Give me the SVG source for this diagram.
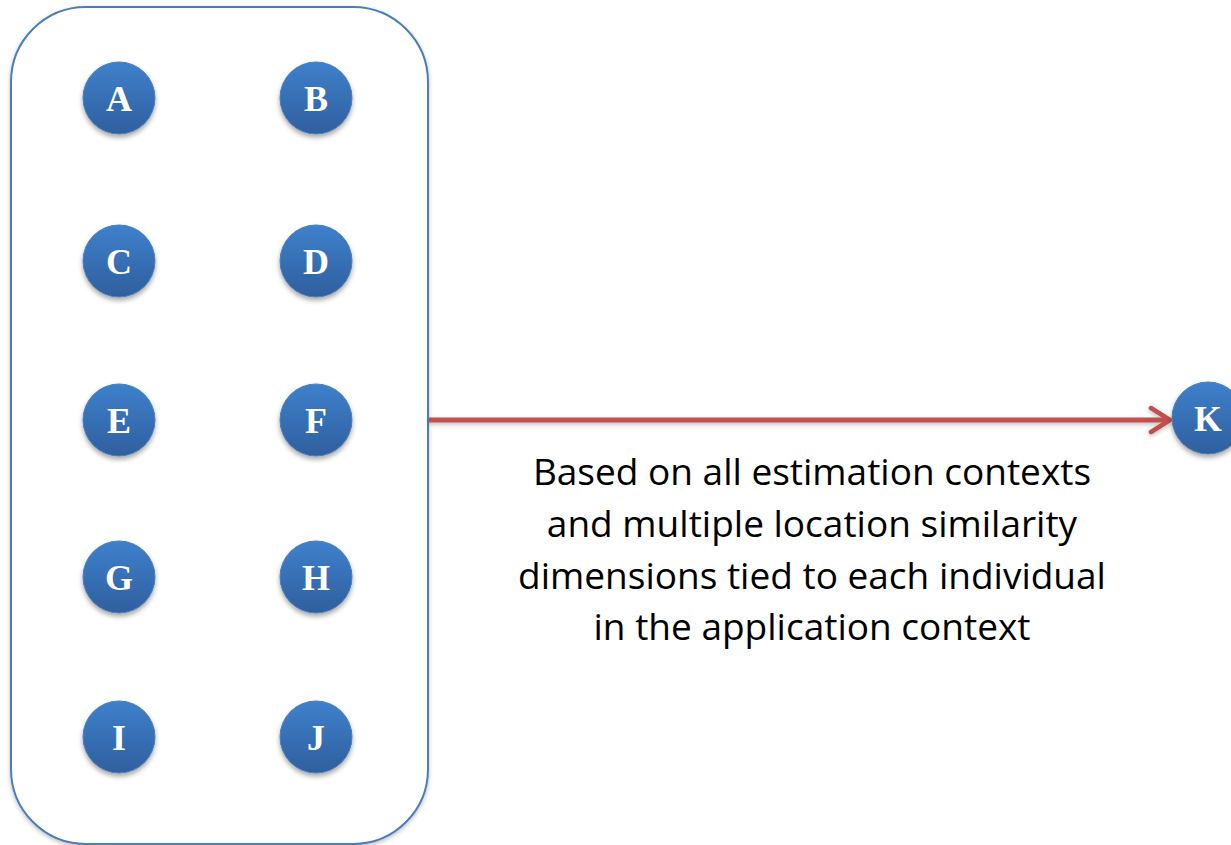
<svg xmlns="http://www.w3.org/2000/svg" width="1231" height="845" viewBox="0 0 1231 845">
<defs>
<linearGradient id="g" x1="0" y1="0" x2="0" y2="1">
<stop offset="0" stop-color="#3E80CC"/>
<stop offset="1" stop-color="#2F5F9E"/>
</linearGradient>
<filter id="sh" x="-30%" y="-30%" width="160%" height="170%">
<feDropShadow dx="0" dy="3" stdDeviation="2.5" flood-color="#000" flood-opacity="0.35"/>
</filter>
<filter id="sh2" x="-5%" y="-5%" width="110%" height="110%">
<feDropShadow dx="0" dy="2" stdDeviation="2" flood-color="#000" flood-opacity="0.25"/>
</filter>
<filter id="sh3" filterUnits="userSpaceOnUse" x="420" y="395" width="780" height="50">
<feDropShadow dx="0" dy="2" stdDeviation="2" flood-color="#000" flood-opacity="0.25"/>
</filter>
<marker id="arr" markerWidth="28" markerHeight="30" refX="22" refY="15" orient="auto" markerUnits="userSpaceOnUse" viewBox="0 0 28 30">
<path d="M3,3 L22,15 L3,27" fill="none" stroke="#C0504D" stroke-width="4.5" stroke-linecap="round" stroke-linejoin="round"/>
</marker>
</defs>
<style>
.n circle{fill:url(#g);stroke:#4A7EBB;stroke-width:1;filter:url(#sh)}
.n text{font-family:"Liberation Serif",serif;font-weight:bold;font-size:36px;fill:#fff;text-anchor:middle}
.lbl{font-family:"Open Sans","Liberation Sans",sans-serif;font-size:37px;fill:#000;text-anchor:middle}
</style>
<rect id="container" x="11" y="7" width="417" height="837" rx="75" ry="75" fill="#fff" stroke="#4A7EBB" stroke-width="2" filter="url(#sh2)"/>
<g id="connectors">
<line x1="429" y1="420" x2="1170" y2="420" stroke="#C0504D" stroke-width="5" marker-end="url(#arr)" filter="url(#sh3)"/>
</g>
<g id="A" class="n"><circle cx="119" cy="98" r="36"/><text x="119" y="111">A</text></g>
<g id="B" class="n"><circle cx="316" cy="98" r="36"/><text x="316" y="111">B</text></g>
<g id="C" class="n"><circle cx="119" cy="261" r="36"/><text x="119" y="274">C</text></g>
<g id="D" class="n"><circle cx="316" cy="261" r="36"/><text x="316" y="274">D</text></g>
<g id="E" class="n"><circle cx="119" cy="420" r="36"/><text x="119" y="433">E</text></g>
<g id="F" class="n"><circle cx="316" cy="420" r="36"/><text x="316" y="433">F</text></g>
<g id="G" class="n"><circle cx="119" cy="577" r="36"/><text x="119" y="590">G</text></g>
<g id="H" class="n"><circle cx="316" cy="577" r="36"/><text x="316" y="590">H</text></g>
<g id="I" class="n"><circle cx="119" cy="737" r="36"/><text x="119" y="750">I</text></g>
<g id="J" class="n"><circle cx="316" cy="737" r="36"/><text x="316" y="750">J</text></g>
<g id="K" class="n"><circle cx="1208" cy="418" r="36"/><text x="1208" y="431">K</text></g>
<g id="label">
<text class="lbl" x="812" y="485">Based on all estimation contexts</text>
<text class="lbl" x="812" y="537">and multiple location similarity</text>
<text class="lbl" x="812" y="589">dimensions tied to each individual</text>
<text class="lbl" x="812" y="640">in the application context</text>
</g>
</svg>
